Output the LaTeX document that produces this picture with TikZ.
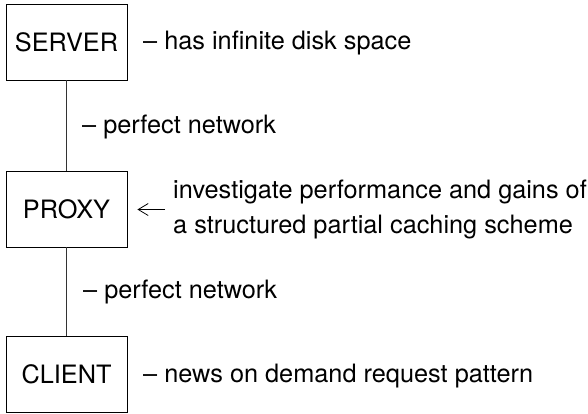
\documentclass[tikz,border=0pt]{standalone}
\usepackage{fontspec}
\setmainfont{TeX Gyre Heros}
\usetikzlibrary{arrows.meta}
\begin{document}
\begin{tikzpicture}[x=1pt,y=-1pt,
  txt/.style={font=\fontsize{25.3}{34.5}\selectfont, inner sep=0pt},
  boxnode/.style={draw, line width=0.9pt, minimum width=121pt, minimum height=76pt,
    inner sep=0pt, text height=18pt, text depth=0pt, font=\fontsize{25.3}{30}\selectfont},
  link/.style={line width=0.9pt, draw=black!80},
  pointer/.style={line width=0.8pt, -{Straight Barb[length=10pt,width=12pt,line width=0.8pt]}}]
\useasboundingbox (0,0) rectangle (588,413);
\node[boxnode] (server) at (66.5,42) {SERVER};
\node[boxnode] (proxy) at (66.5,209) {PROXY};
\node[boxnode] (client) at (66.5,374.5) {CLIENT};
\draw[link] (server) -- (proxy);
\draw[link] (proxy) -- (client);
\node[txt, anchor=base west] (disk) at (143,49) {\textendash{} has infinite disk space};
\node[txt, anchor=base west] (net1) at (82,133) {\textendash{} perfect network};
\node[txt, anchor=base west] (net2) at (83,298) {\textendash{} perfect network};
\node[txt, anchor=base west] (news) at (143,382) {\textendash{} news on demand request pattern};
\node[txt, anchor=west, align=left] (note) at (173,209.5)
  {investigate performance and gains of\\a structured partial caching scheme};
\draw[pointer, shorten <=8pt, shorten >=10pt] (note.west) -- (note.west -| proxy.east);
\end{tikzpicture}
\end{document}
